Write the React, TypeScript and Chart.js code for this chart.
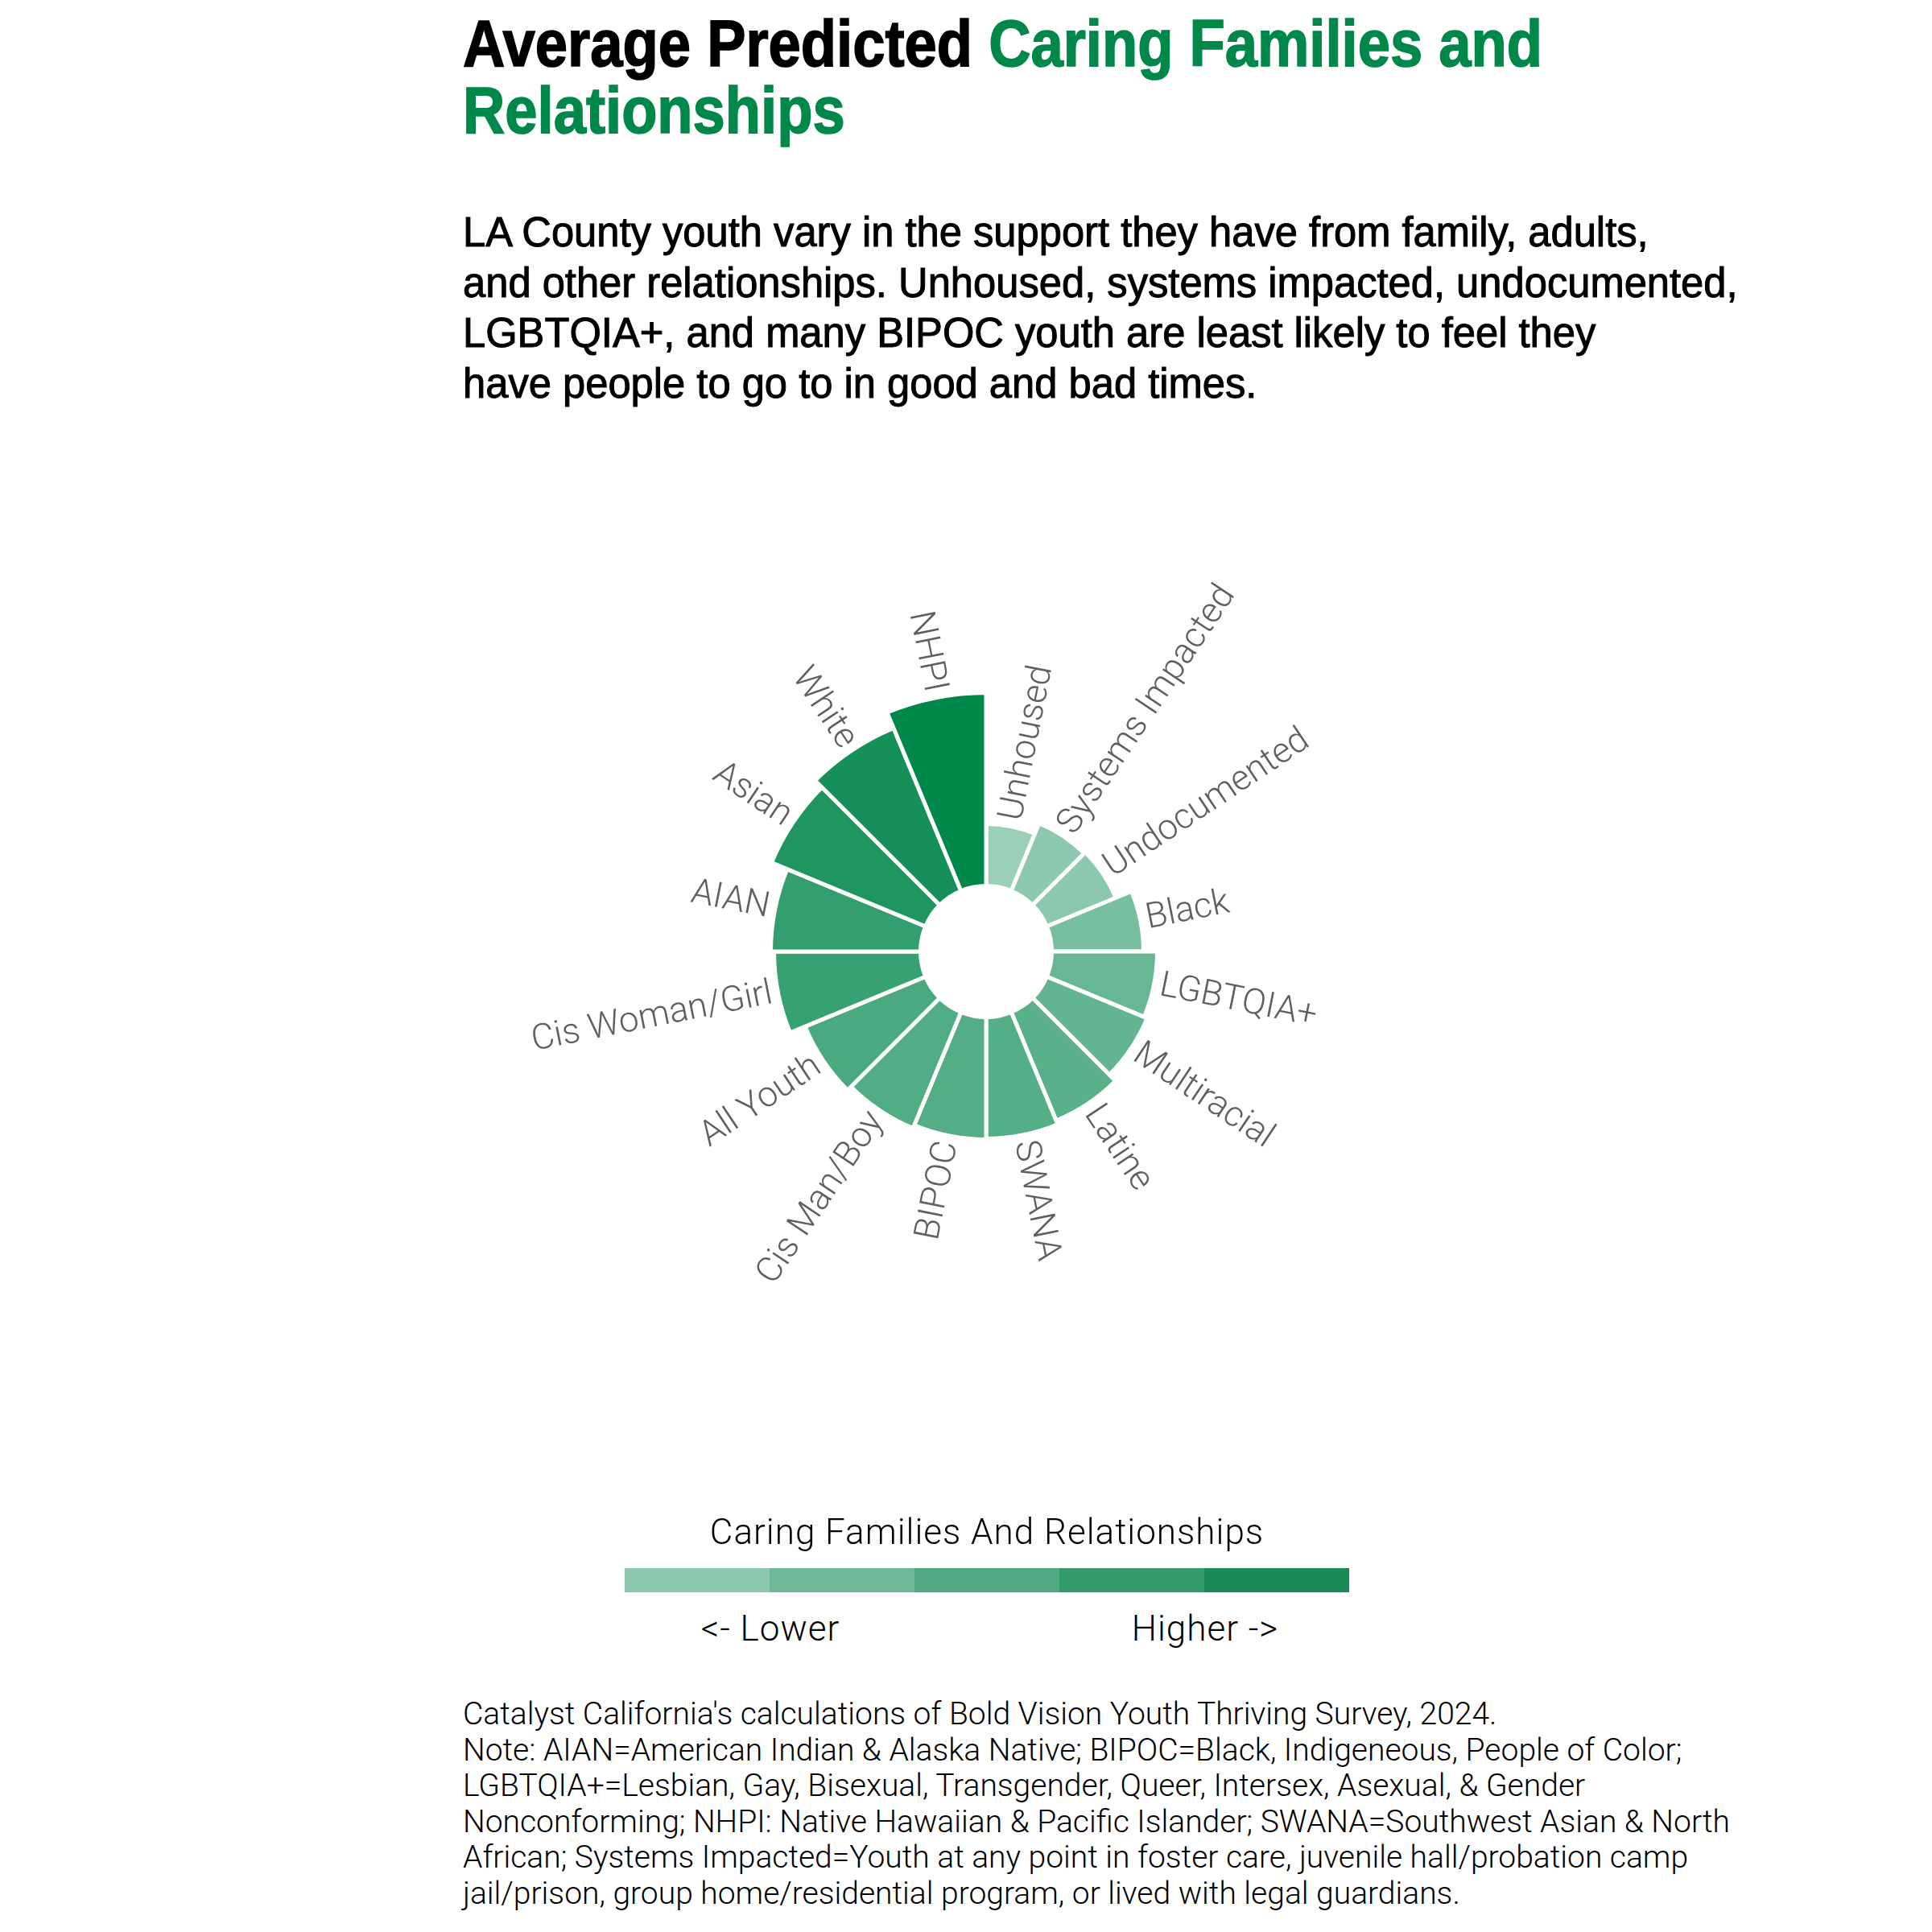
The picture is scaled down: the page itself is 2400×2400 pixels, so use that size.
import React, { useEffect, useLayoutEffect, useRef, useState } from "react";
import { Chart, registerables } from "chart.js";

Chart.register(...registerables);

// ---------- data ----------
const categories = [
  "Unhoused",
  "Systems Impacted",
  "Undocumented",
  "Black",
  "LGBTQIA+",
  "Multiracial",
  "Latine",
  "SWANA",
  "BIPOC",
  "Cis Man/Boy",
  "All Youth",
  "Cis Woman/Girl",
  "AIAN",
  "Asian",
  "White",
  "NHPI",
];
const values = [0.72, 0.86, 0.88, 1.09, 1.26, 1.3, 1.41, 1.46, 1.47, 1.51, 1.57, 1.77, 1.81, 2.02, 2.14, 2.35];
const legendBins = ["#8DC8AE", "#6FB999", "#52AA82", "#339A6C", "#1A8B56"];
const legendTitle = "Caring Families And Relationships";
const legendLow = "<- Lower";
const legendHigh = "Higher ->";
const titleBlack = "Average Predicted ";
const titleGreen1 = "Caring Families and";
const titleGreen2 = "Relationships";
const subtitleLines = [
  "LA County youth vary in the support they have from family, adults,",
  "and other relationships. Unhoused, systems impacted, undocumented,",
  "LGBTQIA+, and many BIPOC youth are least likely to feel they",
  "have people to go to in good and bad times.",
];
const footLines = [
  "Catalyst California's calculations of Bold Vision Youth Thriving Survey, 2024.",
  "Note: AIAN=American Indian & Alaska Native; BIPOC=Black, Indigeneous, People of Color;",
  "LGBTQIA+=Lesbian, Gay, Bisexual, Transgender, Queer, Intersex, Asexual, & Gender",
  "Nonconforming; NHPI: Native Hawaiian & Pacific Islander; SWANA=Southwest Asian & North",
  "African; Systems Impacted=Youth at any point in foster care, juvenile hall/probation camp",
  "jail/prison, group home/residential program, or lived with legal guardians.",
];

// ---------- styles ----------
const GREEN = "#00874A";
const LIGHT = [154, 207, 184];
const DARK = [0, 135, 74];
const BORDER = 5;
const HEAD = "'Liberation Sans', Arimo, Arial, sans-serif";
const LIGHTFONT = "Roboto, 'Noto Sans', sans-serif";

const vMin = Math.min(...values);
const vMax = Math.max(...values);
function colorFor(v: number): string {
  const t = (v - vMin) / (vMax - vMin);
  const c = LIGHT.map((l, k) => Math.round(l + (DARK[k] - l) * t));
  return `rgb(${c[0]}, ${c[1]}, ${c[2]})`;
}

const holeAndLabels = {
  id: "holeAndLabels",
  afterDatasetsDraw(chart: any) {
    const ctx = chart.ctx as CanvasRenderingContext2D;
    const scale = chart.scales.r;
    const cx = scale.xCenter;
    const cy = scale.yCenter;
    const hole = scale.getDistanceFromCenterForValue(0) - BORDER / 2;
    ctx.save();
    ctx.fillStyle = "#ffffff";
    ctx.beginPath();
    ctx.arc(cx, cy, hole, 0, Math.PI * 2);
    ctx.fill();
    const meta = chart.getDatasetMeta(0);
    ctx.font = "300 44px Roboto";
    ctx.fillStyle = "#5f5f5f";
    ctx.textBaseline = "middle";
    meta.data.forEach((arc: any, i: number) => {
      const p = arc.getProps(["startAngle", "endAngle", "outerRadius"], true);
      const a = (p.startAngle + p.endAngle) / 2;
      const r = p.outerRadius - BORDER / 2 + 10;
      ctx.save();
      ctx.translate(cx + Math.cos(a) * r, cy + Math.sin(a) * r);
      if (Math.cos(a) > 0) {
        ctx.rotate(a);
        ctx.textAlign = "left";
      } else {
        ctx.rotate(a + Math.PI);
        ctx.textAlign = "right";
      }
      ctx.fillText(categories[i], 0, 0);
      ctx.restore();
    });
    ctx.restore();
  },
};

function PolarChart() {
  const ref = useRef<HTMLCanvasElement | null>(null);
  useEffect(() => {
    if (!ref.current) return;
    const chart = new Chart(ref.current, {
      type: "polarArea",
      data: {
        labels: categories,
        datasets: [
          {
            data: values,
            backgroundColor: values.map(colorFor),
            borderColor: "#ffffff",
            borderWidth: BORDER,
          },
        ],
      },
      options: {
        responsive: false,
        animation: false,
        devicePixelRatio: 1,
        layout: { padding: 300 },
        plugins: { legend: { display: false }, tooltip: { enabled: false } },
        scales: {
          r: {
            min: -0.865,
            max: 3.135,
            ticks: { display: false },
            grid: { display: false },
            angleLines: { display: false },
            pointLabels: { display: false },
          },
        },
      } as any,
      plugins: [holeAndLabels],
    });
    return () => chart.destroy();
  }, []);
  return (
    <canvas
      ref={ref}
      width={1400}
      height={1400}
      style={{ position: "absolute", left: 525, top: 482, width: 1400, height: 1400 }}
    />
  );
}

function FitLines(props: {
  lines: React.ReactNode[];
  target: number;
  left: number;
  top: number;
  style: React.CSSProperties;
}) {
  const ref = useRef<HTMLSpanElement | null>(null);
  const [s, setS] = useState(1);
  useLayoutEffect(() => {
    if (ref.current && ref.current.offsetWidth > 0) setS(props.target / ref.current.offsetWidth);
  }, []);
  return (
    <div
      style={{
        position: "absolute",
        left: props.left,
        top: props.top,
        whiteSpace: "nowrap",
        transform: `scaleX(${s})`,
        transformOrigin: "0 0",
        ...props.style,
      }}
    >
      {props.lines.map((l, i) => (
        <div key={i}>
          <span ref={i === 0 ? ref : undefined} style={{ display: "inline-block" }}>
            {l}
          </span>
        </div>
      ))}
    </div>
  );
}

export default function App() {
  const abs: React.CSSProperties = { position: "absolute", whiteSpace: "nowrap", margin: 0 };
  const legendText: React.CSSProperties = {
    fontFamily: LIGHTFONT,
    fontWeight: 300,
    fontSize: 44,
    lineHeight: "44px",
    letterSpacing: 1,
    color: "#000",
    textAlign: "center",
  };
  return (
    <div>
      <FitLines
        left={575}
        top={12}
        target={1341}
        style={{
          fontFamily: HEAD,
          fontWeight: 700,
          fontSize: 82,
          lineHeight: "83px",
          color: "#000",
          WebkitTextStroke: "1.6px currentColor",
        }}
        lines={[
          <>
            {titleBlack}
            <span style={{ color: GREEN }}>{titleGreen1}</span>
          </>,
          <span style={{ color: GREEN }}>{titleGreen2}</span>,
        ]}
      />
      <FitLines
        left={575}
        top={258}
        target={1473}
        style={{
          fontFamily: HEAD,
          fontWeight: 400,
          fontSize: 51,
          lineHeight: "62.7px",
          color: "#000",
          WebkitTextStroke: "1px #000",
        }}
        lines={subtitleLines}
      />
      <PolarChart />
      <div style={{ ...abs, ...legendText, left: 676, width: 1100, top: 1881 }}>{legendTitle}</div>
      <div style={{ position: "absolute", left: 776, top: 1948, width: 900, height: 30, display: "flex" }}>
        {legendBins.map((c, i) => (
          <div key={i} style={{ flex: 1, background: c }} />
        ))}
      </div>
      <div style={{ ...abs, ...legendText, left: 757, width: 400, top: 2001 }}>{legendLow}</div>
      <div style={{ ...abs, ...legendText, left: 1297, width: 400, top: 2001 }}>{legendHigh}</div>
      <div
        style={{
          ...abs,
          left: 575,
          top: 2107,
          fontFamily: LIGHTFONT,
          fontWeight: 300,
          fontSize: 39,
          lineHeight: "44.5px",
          color: "#000",
        }}
      >
        {footLines.map((l, i) => (
          <div key={i}>{l}</div>
        ))}
      </div>
    </div>
  );
}
